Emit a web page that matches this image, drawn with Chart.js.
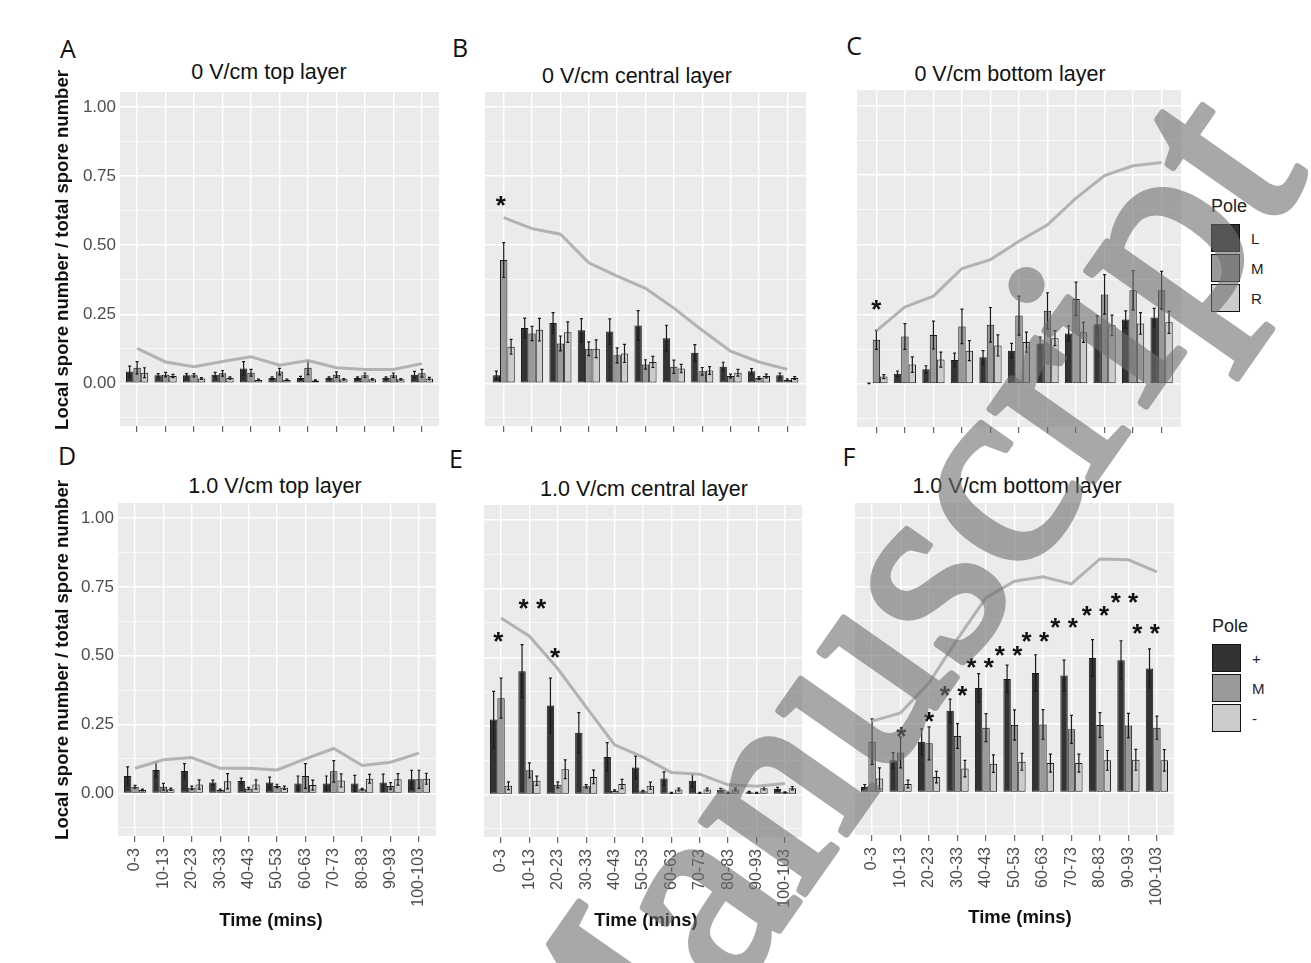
<!DOCTYPE html>
<html><head><meta charset="utf-8">
<script src="https://cdn.jsdelivr.net/npm/chart.js@4.4.1/dist/chart.umd.min.js"></script>
<style>
html,body{margin:0;padding:0;background:#fff;}
body{width:1311px;height:963px;overflow:hidden;position:relative;font-family:'Liberation Sans',Arial,sans-serif;}
canvas{position:absolute;}
.t{position:absolute;white-space:nowrap;transform:translate(-50%,-50%);line-height:1;}
.letter{font-family:'Open Sans','Liberation Sans',sans-serif;font-size:25px;color:#111;}
.title{font-size:21.5px;color:#111;}
.ytitle{font-size:18.5px;font-weight:bold;color:#111;transform:translate(-50%,-50%) rotate(-90deg);}
.xtitle{font-size:18.5px;font-weight:bold;color:#111;}
.legend{position:absolute;}
.legend .lt{font-size:18px;color:#222;margin-bottom:6px;}
.legend .row{display:flex;align-items:center;height:30px;}
.legend .key{width:27px;height:26px;border:1.5px solid #111;box-sizing:content-box;}
.legend .lab{margin-left:11px;font-size:15px;color:#222;}
</style></head><body>
<script>
// ---------- DATA ----------
const categories = ['0-3','10-13','20-23','30-33','40-43','50-53','60-63','70-73','80-83','90-93','100-103'];
const yTickValues = [0, 0.25, 0.5, 0.75, 1.0];
const poleTop = ['L','M','R'];
const poleBottom = ['+','M','-'];

// 0 V/cm top layer
const A_L  = [0.042,0.029,0.029,0.031,0.053,0.019,0.019,0.019,0.019,0.019,0.031];
const A_Le = [0.020,0.006,0.006,0.008,0.025,0.004,0.006,0.004,0.004,0.004,0.012];
const A_M  = [0.056,0.031,0.029,0.036,0.038,0.042,0.056,0.031,0.029,0.029,0.036];
const A_Me = [0.022,0.008,0.006,0.010,0.012,0.012,0.025,0.010,0.008,0.008,0.014];
const A_R  = [0.038,0.026,0.017,0.019,0.012,0.012,0.010,0.014,0.014,0.014,0.017];
const A_Re = [0.018,0.006,0.003,0.004,0.003,0.003,0.002,0.003,0.003,0.003,0.004];
const A_total = [0.126,0.077,0.060,0.079,0.096,0.065,0.082,0.056,0.050,0.050,0.071];
const A_stars = [];

// 0 V/cm central layer
const B_L  = [0.029,0.200,0.218,0.192,0.187,0.209,0.163,0.110,0.060,0.043,0.029];
const B_Le = [0.015,0.036,0.038,0.042,0.046,0.054,0.047,0.030,0.016,0.010,0.008];
const B_M  = [0.446,0.180,0.144,0.125,0.101,0.068,0.060,0.043,0.026,0.019,0.012];
const B_Me = [0.063,0.026,0.027,0.025,0.027,0.017,0.024,0.014,0.007,0.005,0.004];
const B_R  = [0.132,0.194,0.185,0.125,0.108,0.077,0.053,0.046,0.038,0.026,0.019];
const B_Re = [0.027,0.041,0.037,0.032,0.033,0.020,0.015,0.014,0.012,0.007,0.005];
const B_total = [0.600,0.560,0.540,0.436,0.388,0.344,0.272,0.192,0.116,0.077,0.050];
const B_stars = [{cat:0, y:0.668, text:'*', dx:-0.1}];

// 0 V/cm bottom layer
const C_L  = [0.002,0.036,0.052,0.086,0.095,0.119,0.145,0.181,0.214,0.231,0.238];
const C_Le = [0.001,0.010,0.013,0.024,0.024,0.026,0.023,0.027,0.030,0.031,0.033];
const C_M  = [0.158,0.170,0.175,0.206,0.212,0.245,0.262,0.305,0.321,0.336,0.336];
const C_Me = [0.034,0.046,0.050,0.062,0.062,0.070,0.065,0.060,0.071,0.071,0.068];
const C_R  = [0.026,0.069,0.087,0.119,0.138,0.150,0.164,0.185,0.210,0.217,0.221];
const C_Re = [0.007,0.028,0.027,0.036,0.038,0.036,0.027,0.036,0.037,0.039,0.040];
const C_total = [0.190,0.276,0.315,0.414,0.446,0.512,0.571,0.667,0.748,0.783,0.795];
const C_stars = [{cat:0, y:0.288, text:'*', dx:0}];

// 1.0 V/cm top layer
const D_P  = [0.063,0.085,0.081,0.039,0.045,0.039,0.036,0.036,0.036,0.039,0.051];
const D_Pe = [0.033,0.027,0.027,0.009,0.010,0.020,0.027,0.027,0.029,0.031,0.033];
const D_M  = [0.024,0.024,0.020,0.012,0.018,0.027,0.063,0.080,0.015,0.027,0.051];
const D_Me = [0.005,0.012,0.006,0.003,0.004,0.006,0.045,0.039,0.003,0.012,0.033];
const D_N  = [0.012,0.015,0.032,0.044,0.032,0.020,0.030,0.047,0.053,0.051,0.053];
const D_Ne = [0.003,0.004,0.017,0.028,0.017,0.006,0.018,0.024,0.016,0.021,0.020];
const D_total = [0.091,0.122,0.130,0.091,0.091,0.085,0.125,0.163,0.101,0.113,0.146];
const D_stars = [];

// 1.0 V/cm central layer
const E_P  = [0.273,0.449,0.324,0.225,0.137,0.098,0.058,0.050,0.017,0.008,0.020];
const E_Pe = [0.103,0.097,0.100,0.073,0.052,0.042,0.024,0.024,0.005,0.003,0.006];
const E_M  = [0.351,0.088,0.035,0.030,0.014,0.012,0.006,0.006,0.006,0.006,0.008];
const E_Me = [0.073,0.027,0.011,0.006,0.003,0.003,0.002,0.002,0.002,0.002,0.002];
const E_N  = [0.032,0.050,0.092,0.064,0.038,0.032,0.018,0.018,0.018,0.023,0.023];
const E_Ne = [0.014,0.017,0.034,0.025,0.017,0.013,0.005,0.005,0.005,0.006,0.006];
const E_total = [0.643,0.577,0.458,0.318,0.181,0.136,0.080,0.074,0.035,0.030,0.040];
const E_stars = [{cat:0, y:0.582, text:'*', dx:-0.1},{cat:1, y:0.701, text:'* *', dx:0.1},{cat:2, y:0.523, text:'*', dx:-0.1}];

// 1.0 V/cm bottom layer
const F_P  = [0.020,0.117,0.185,0.298,0.381,0.414,0.435,0.426,0.490,0.482,0.452];
const F_Pe = [0.009,0.028,0.047,0.042,0.052,0.050,0.067,0.056,0.067,0.071,0.071];
const F_M  = [0.185,0.146,0.179,0.206,0.236,0.246,0.248,0.230,0.246,0.244,0.236];
const F_Me = [0.083,0.056,0.060,0.045,0.051,0.055,0.054,0.051,0.045,0.044,0.042];
const F_N  = [0.051,0.031,0.056,0.087,0.105,0.112,0.107,0.107,0.117,0.119,0.117];
const F_Ne = [0.039,0.014,0.021,0.030,0.032,0.031,0.033,0.033,0.036,0.038,0.039];
const F_total = [0.26,0.29,0.40,0.56,0.71,0.77,0.786,0.76,0.851,0.848,0.804];
const F_stars = [{cat:1,y:0.226,text:'*',dx:0.03},{cat:2,y:0.283,text:'*',dx:0},{cat:3,y:0.375,text:'* *',dx:-0.14},
  {cat:4,y:0.480,text:'* *',dx:-0.21},{cat:5,y:0.524,text:'* *',dx:-0.21},{cat:6,y:0.575,text:'* *',dx:-0.27},
  {cat:7,y:0.623,text:'* *',dx:-0.26},{cat:8,y:0.667,text:'* *',dx:-0.16},{cat:9,y:0.717,text:'* *',dx:-0.14},
  {cat:10,y:0.604,text:'* *',dx:-0.38}];

// ---------- STYLE / LAYOUT ----------
Chart.defaults.font.family = "'Liberation Sans', Arial, sans-serif";
const FILLS = ['#333333','#999999','#cccccc'];
const panels = [
  {id:'A', title:'0 V/cm top layer', series:[A_L,A_M,A_R], errors:[A_Le,A_Me,A_Re], total:A_total, stars:A_stars, names:poleTop,
   box:{l:120.2,t:91.7,r:438.8,b:426}, xpad:0.6, yLabels:true, xLabels:false, letterPos:[68,48], titlePos:[269,73]},
  {id:'B', title:'0 V/cm central layer', series:[B_L,B_M,B_R], errors:[B_Le,B_Me,B_Re], total:B_total, stars:B_stars, names:poleTop,
   box:{l:484.6,t:91.7,r:805.4,b:426}, xpad:0.66, yLabels:false, xLabels:false, letterPos:[460,47], titlePos:[637,77]},
  {id:'C', title:'0 V/cm bottom layer', series:[C_L,C_M,C_R], errors:[C_Le,C_Me,C_Re], total:C_total, stars:C_stars, names:poleTop,
   box:{l:857.3,t:89.5,r:1181,b:426.7}, xpad:0.68, yLabels:false, xLabels:false, letterPos:[854,45], titlePos:[1010,75]},
  {id:'D', title:'1.0 V/cm top layer', series:[D_P,D_M,D_N], errors:[D_Pe,D_Me,D_Ne], total:D_total, stars:D_stars, names:poleBottom,
   box:{l:118,t:503.3,r:435.5,b:836.7}, xpad:0.6, yLabels:true, xLabels:true, letterPos:[67,455], titlePos:[275,487]},
  {id:'E', title:'1.0 V/cm central layer', series:[E_P,E_M,E_N], errors:[E_Pe,E_Me,E_Ne], total:E_total, stars:E_stars, names:poleBottom,
   box:{l:483.5,t:505,r:801.5,b:836.7}, xpad:0.6, yLabels:false, xLabels:true, letterPos:[456,458], titlePos:[644,490]},
  {id:'F', title:'1.0 V/cm bottom layer', series:[F_P,F_M,F_N], errors:[F_Pe,F_Me,F_Ne], total:F_total, stars:F_stars, names:poleBottom,
   box:{l:855,t:503.3,r:1174,b:835}, xpad:0.6, yLabels:false, xLabels:true, letterPos:[849,456], titlePos:[1017,487]}
];
const Y_AXIS_W = 50, X_AXIS_H_TOP = 10, X_AXIS_H_BOT = 90;
const isMajor = v => Math.abs(v*4 - Math.round(v*4)) < 1e-6;
const starMap = {};

const bgPlugin = {id:'panelBg', beforeDraw(chart){
  const {ctx, chartArea:a} = chart; ctx.save(); ctx.fillStyle = '#ebebeb';
  ctx.fillRect(a.left, a.top, a.right-a.left, a.bottom-a.top); ctx.restore();
}};
const errPlugin = {id:'errbars', afterDatasetDraw(chart, args){
  const ds = chart.data.datasets[args.index]; if (!ds.errors) return;
  const ys = chart.scales.y, ctx = chart.ctx;
  ctx.save(); ctx.strokeStyle = '#1a1a1a'; ctx.lineWidth = 1.2;
  args.meta.data.forEach((el, i) => {
    const v = ds.data[i].y, e = ds.errors[i];
    const y1 = ys.getPixelForValue(v + e), y2 = ys.getPixelForValue(v - e), x = el.x;
    ctx.beginPath();
    ctx.moveTo(x, y1); ctx.lineTo(x, y2);
    ctx.moveTo(x-1.5, y1); ctx.lineTo(x+1.5, y1);
    ctx.moveTo(x-1.5, y2); ctx.lineTo(x+1.5, y2);
    ctx.stroke();
  });
  ctx.restore();
}};
const starPlugin = {id:'stars', afterDatasetsDraw(chart){
  const list = starMap[chart.canvas.id] || [];
  const ctx = chart.ctx, xs = chart.scales.x, ys = chart.scales.y, fs = 26;
  ctx.save(); ctx.fillStyle = '#111'; ctx.font = 'bold ' + fs + "px 'Liberation Sans'";
  ctx.textAlign = 'center'; ctx.textBaseline = 'alphabetic';
  list.forEach(s => ctx.fillText(s.text, xs.getPixelForValue(s.cat + s.dx), ys.getPixelForValue(s.y) + 0.57*fs));
  ctx.restore();
}};

function addText(cls, text, x, y){
  const d = document.createElement('div'); d.className = 't ' + cls; d.textContent = text;
  d.style.left = x + 'px'; d.style.top = y + 'px'; document.body.appendChild(d); return d;
}

panels.forEach(p => {
  const yw = p.yLabels ? Y_AXIS_W : 0;
  const xh = p.xLabels ? X_AXIS_H_BOT : X_AXIS_H_TOP;
  const c = document.createElement('canvas');
  c.id = 'chart' + p.id;
  c.width = Math.round(p.box.r - p.box.l + yw); c.height = Math.round(p.box.b - p.box.t + xh);
  c.style.left = (p.box.l - yw) + 'px'; c.style.top = p.box.t + 'px';
  document.body.appendChild(c);
  starMap[c.id] = p.stars;
  const datasets = [{type:'line', label:'Total', data:p.total.map((v,i)=>({x:i,y:v})),
      borderColor:'rgba(172,172,172,0.9)', borderWidth:3, pointRadius:0, tension:0, order:0}];
  p.series.forEach((s,k) => datasets.push({type:'bar', label:p.names[k], data:s.map((v,i)=>({x:i,y:v})),
      errors:p.errors[k], backgroundColor:FILLS[k], borderColor:'#1a1a1a', borderWidth:1, borderSkipped:false,
      categoryPercentage:0.78, barPercentage:1.0, order:1}));
  new Chart(c, {
    type:'bar',
    data:{datasets},
    options:{
      responsive:false, animation:false, events:[],
      layout:{padding:0},
      plugins:{legend:{display:false}, tooltip:{enabled:false}},
      scales:{
        x:{type:'linear', min:-p.xpad, max:10+p.xpad, offset:false,
           grid:{color:'#ffffff', lineWidth:1.4, offset:false, drawTicks:true, tickLength:6, tickColor:'#444', tickWidth:1},
           border:{display:false},
           ticks:{stepSize:1, includeBounds:false, autoSkip:false, display:p.xLabels, maxRotation:90, minRotation:90,
                  padding:6, color:'#4d4d4d', font:{size:16}, callback:v => categories[v]},
           afterFit:s => {s.height = xh; s.paddingLeft = 0; s.paddingRight = 0;}},
        y:{type:'linear', min:-0.155, max:1.055,
           grid:{color:'#ffffff', lineWidth:ctx => (ctx.tick && isMajor(ctx.tick.value)) ? 1.4 : 0.7, drawTicks:false},
           border:{display:false},
           ticks:{stepSize:0.125, includeBounds:false, display:p.yLabels, padding:4, color:'#4d4d4d', font:{size:17},
                  callback:v => (yTickValues.some(t => Math.abs(t - v) < 1e-6) ? v.toFixed(2) : '')},
           afterFit:s => {s.width = yw; s.paddingTop = 0; s.paddingBottom = 0;}}
      }
    },
    plugins:[bgPlugin, errPlugin, starPlugin]
  });
  addText('letter', p.id, p.letterPos[0], p.letterPos[1]);
  addText('title', p.title, p.titlePos[0], p.titlePos[1]);
});

// axis titles
addText('ytitle', 'Local spore number / total spore number', 61.5, 250);
addText('ytitle', 'Local spore number / total spore number', 61.5, 660);
addText('xtitle', 'Time (mins)', 271, 920);
addText('xtitle', 'Time (mins)', 646, 920);
addText('xtitle', 'Time (mins)', 1020, 917);

// legends
function addLegend(x, y, names){
  const L = document.createElement('div'); L.className = 'legend'; L.style.left = x + 'px'; L.style.top = y + 'px';
  const t = document.createElement('div'); t.className = 'lt'; t.textContent = 'Pole'; L.appendChild(t);
  names.forEach((n,k) => {
    const r = document.createElement('div'); r.className = 'row';
    const kb = document.createElement('div'); kb.className = 'key'; kb.style.background = FILLS[k];
    const lb = document.createElement('div'); lb.className = 'lab'; lb.textContent = n;
    r.appendChild(kb); r.appendChild(lb); L.appendChild(r);
  });
  document.body.appendChild(L);
}
addLegend(1211, 196, poleTop);
addLegend(1212, 616, poleBottom);
</script>
<svg width="1311" height="963" style="position:absolute;left:0;top:0;pointer-events:none">
  <g opacity="0.6">
    <text x="591" y="1199" transform="rotate(-55 591 1199)" font-family="'Liberation Serif', serif" font-size="275" fill="rgb(110,110,110)" stroke="rgb(110,110,110)" stroke-width="7" stroke-linejoin="round">Manuscript</text>
  </g>
</svg>
</body></html>
